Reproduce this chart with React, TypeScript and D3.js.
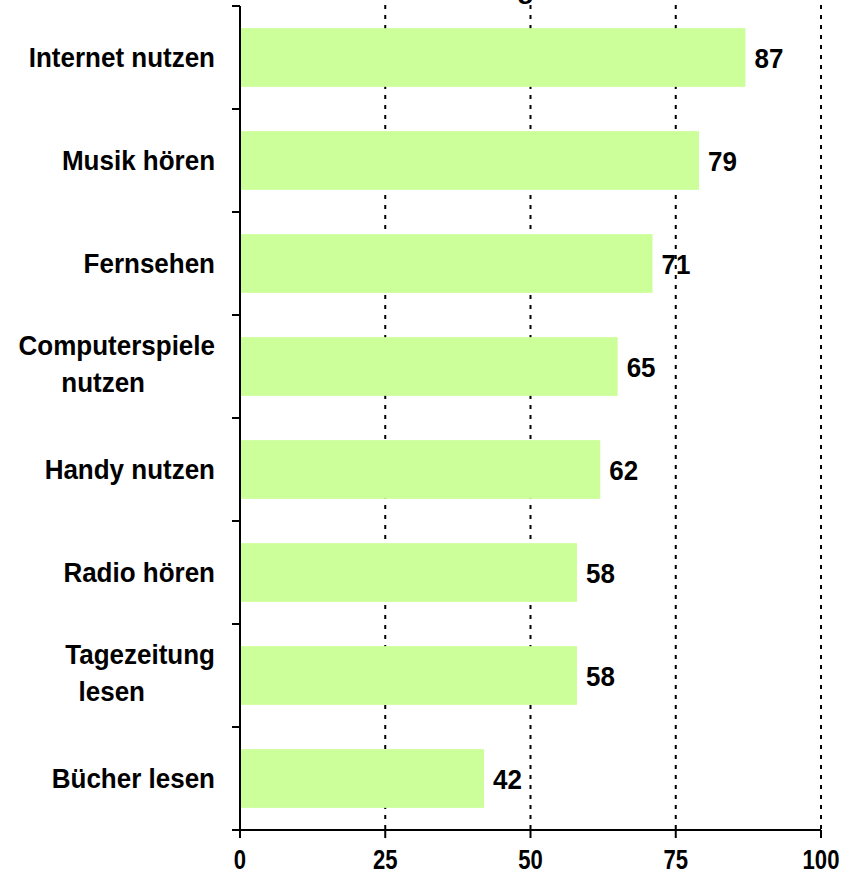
import React from "react";
import * as d3 from "d3";

const categories: string[][] = [
  ["Internet nutzen"],
  ["Musik hören"],
  ["Fernsehen"],
  ["Computerspiele", "nutzen"],
  ["Handy nutzen"],
  ["Radio hören"],
  ["Tagezeitung", "lesen"],
  ["Bücher lesen"],
];
const values: number[] = [87, 79, 71, 65, 62, 58, 58, 42];
const xTicks: number[] = [0, 25, 50, 75, 100];
const titleText = "Nutzung";

const W = 850;
const H = 874;
const FONT = "Arial, 'Liberation Sans', Helvetica, sans-serif";

export default function App() {
  const x = d3.scaleLinear().domain([0, 100]).range([240, 821]);
  const keys = categories.map((c) => c.join(" "));
  const y = d3.scaleBand<string>().domain(keys).range([6, 830]).paddingInner(0.43).paddingOuter(0.215);
  const step = y.step();
  const bw = y.bandwidth();
  const bottom = 830;

  return (
    <svg
      width={W}
      height={H}
      style={{ position: "absolute", left: 0, top: 0, background: "#fff" }}
      fontFamily={FONT}
    >
      {/* title (cut off at top) */}
      <text x={534} y={-2} textAnchor="end" fontSize={28} fontWeight="bold" fill="#000">
        {titleText}
      </text>
      {/* gridlines */}
      {xTicks.filter((t) => t > 0).map((t) => (
        <line
          key={"g" + t}
          x1={x(t)}
          x2={x(t)}
          y1={5}
          y2={bottom}
          stroke="#000"
          strokeWidth={2}
          strokeDasharray="4 6"
        />
      ))}
      {/* bars */}
      {keys.map((k, i) => (
        <rect key={"b" + k} x={x(0)} y={y(k)!} width={x(values[i]) - x(0)} height={bw} fill="#CCFF99" />
      ))}
      {/* value labels */}
      {keys.map((k, i) => (
        <text
          key={"v" + k}
          transform={`translate(${x(values[i]) + 9},${y(k)! + bw / 2 + 10}) scale(1,1.08)`}
          fontSize={26}
          fontWeight="bold"
          fill="#000"
        >
          {values[i]}
        </text>
      ))}
      {/* category labels */}
      {categories.map((c, i) => {
        const cy = y(keys[i])! + bw / 2;
        if (c.length === 1) {
          return (
            <text
              key={"c" + i}
              transform={`translate(215,${cy + 9}) scale(1,1.08)`}
              textAnchor="end"
              fontSize={26}
              fontWeight="bold"
              fill="#000"
            >
              {c[0]}
            </text>
          );
        }
        return (
          <g key={"c" + i}>
            <text
              transform={`translate(215,${cy - 11.5}) scale(1,1.08)`}
              textAnchor="end"
              fontSize={26}
              fontWeight="bold"
              fill="#000"
            >
              {c[0]}
            </text>
            <text
              transform={`translate(145,${cy + 25.5}) scale(1,1.08)`}
              textAnchor="end"
              fontSize={26}
              fontWeight="bold"
              fill="#000"
            >
              {c[1]}
            </text>
          </g>
        );
      })}
      {/* y axis */}
      <line x1={x(0)} x2={x(0)} y1={6} y2={bottom} stroke="#000" strokeWidth={2} />
      {d3.range(keys.length + 1).map((i) => (
        <line key={"yt" + i} x1={x(0) - 8} x2={x(0)} y1={6 + i * step} y2={6 + i * step} stroke="#000" strokeWidth={2} />
      ))}
      {/* x axis */}
      <line x1={x(0) - 8} x2={x(100)} y1={bottom} y2={bottom} stroke="#000" strokeWidth={2} />
      {xTicks.map((t) => (
        <g key={"xt" + t}>
          <line x1={x(t)} x2={x(t)} y1={bottom} y2={bottom + 8} stroke="#000" strokeWidth={2} />
          <text
            transform={`translate(${x(t)},869) scale(0.85,1.05)`}
            textAnchor="middle"
            fontSize={26}
            fontWeight="bold"
            fill="#000"
          >
            {t}
          </text>
        </g>
      ))}
    </svg>
  );
}
